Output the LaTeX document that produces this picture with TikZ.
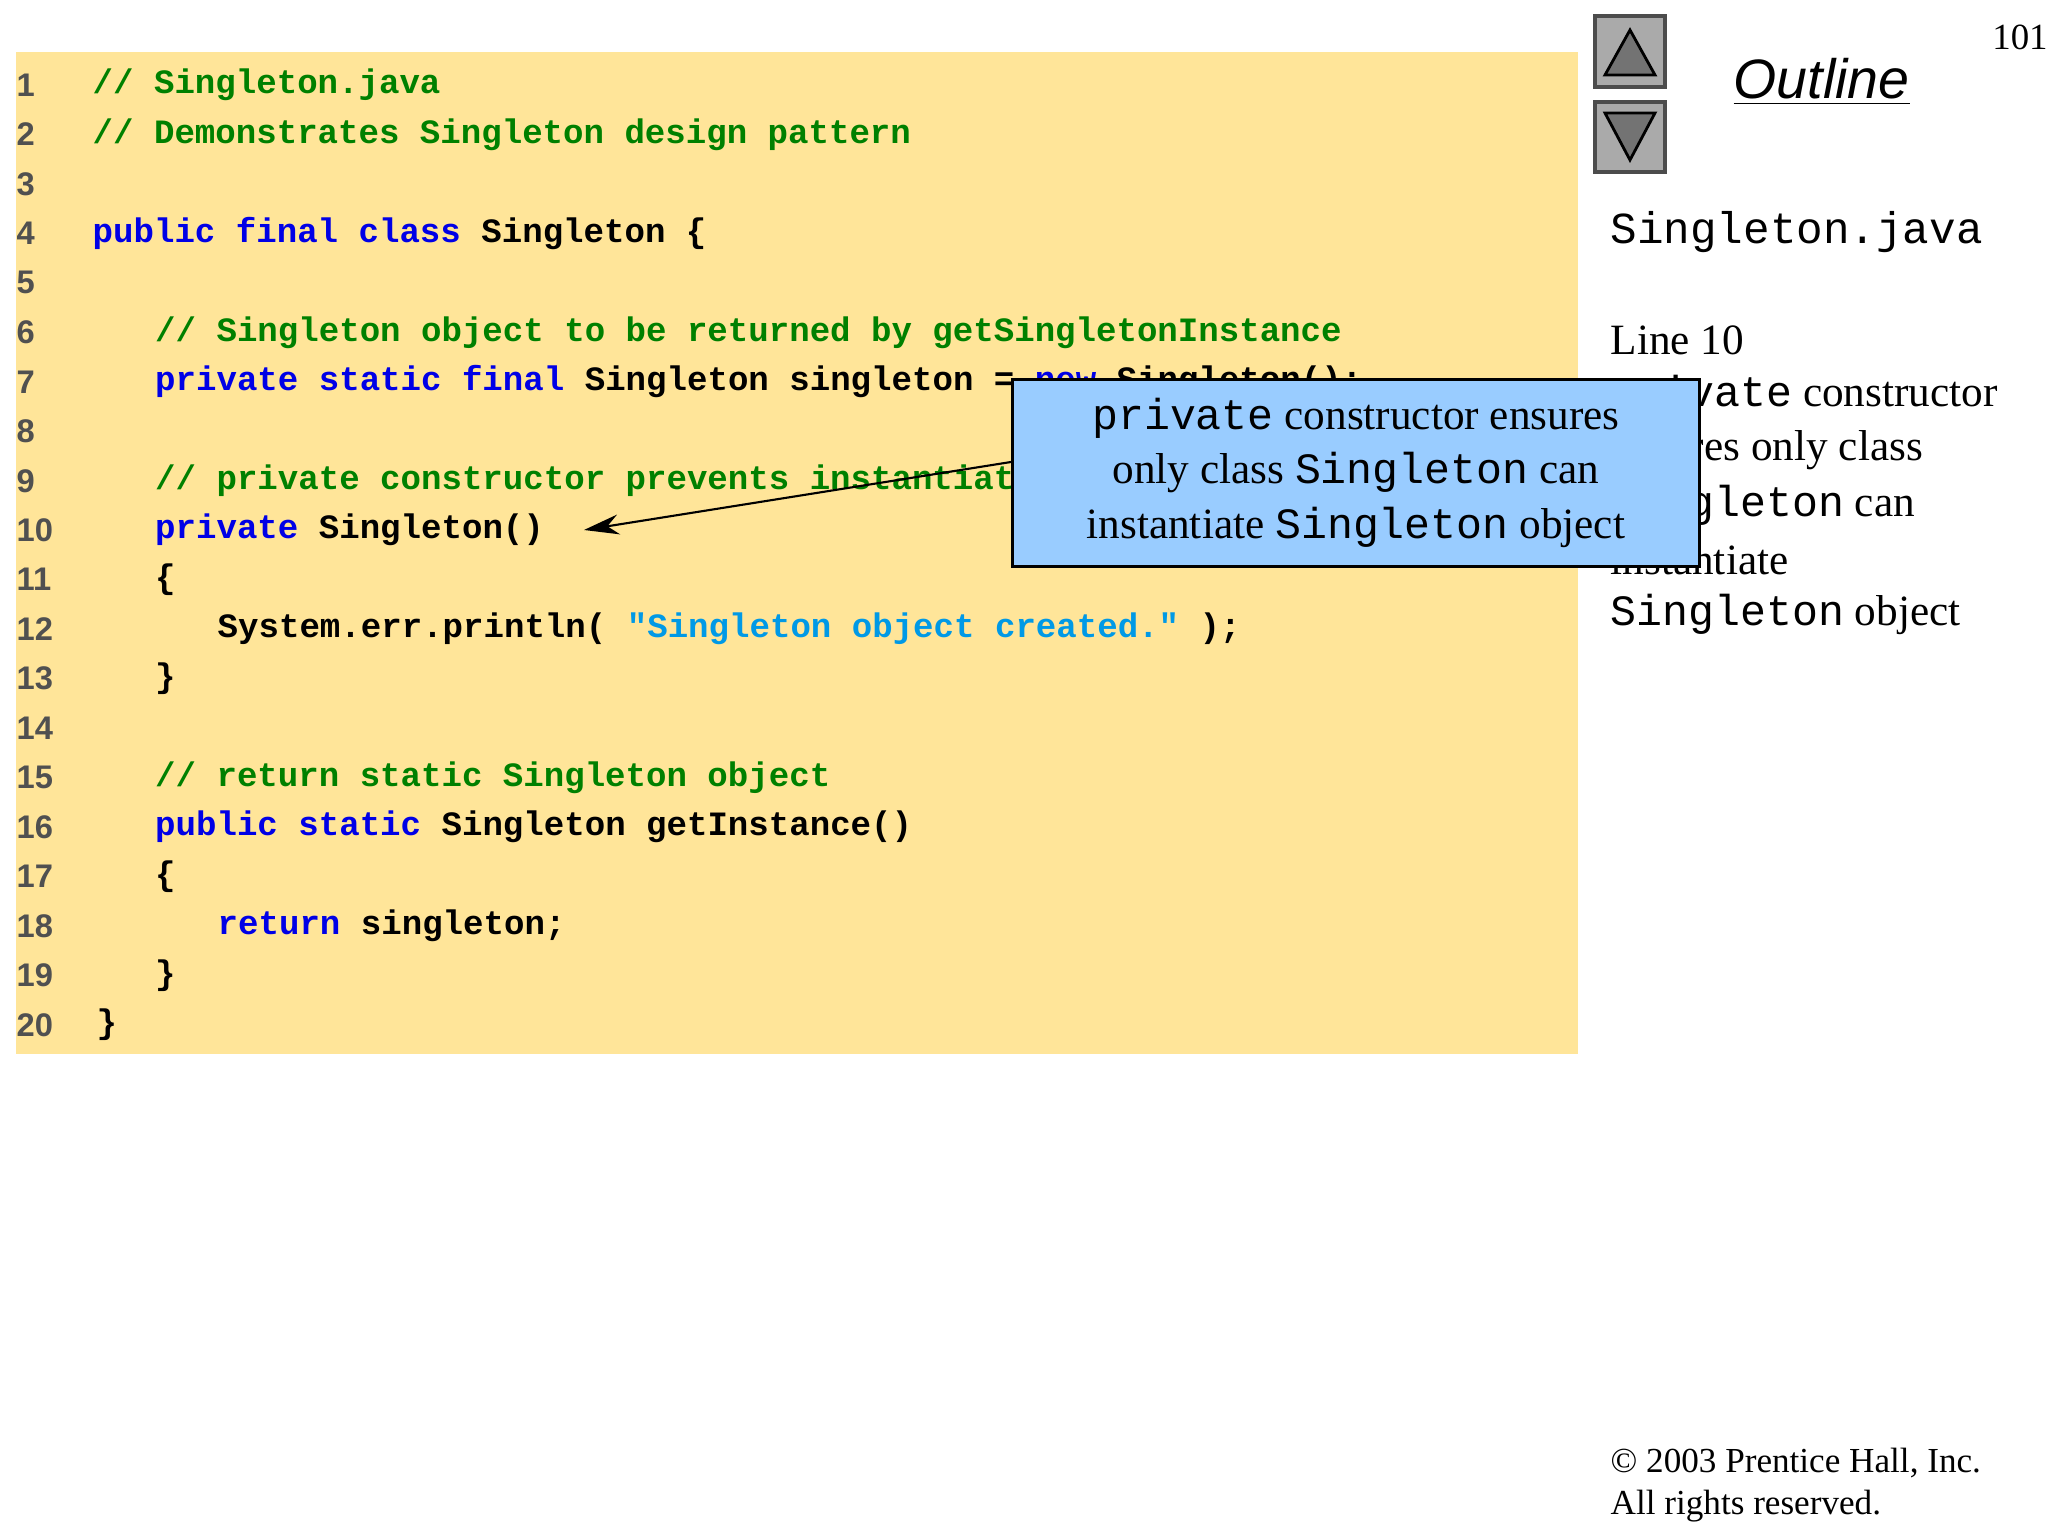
\documentclass[tikz,border=0pt]{standalone}
\usepackage{fontspec}
\setmainfont{Liberation Serif}
\setmonofont{Liberation Mono}
\newfontfamily\outl{Liberation Sans}
\usetikzlibrary{arrows.meta}
\definecolor{codebg}{RGB}{255,229,153}
\definecolor{cmt}{RGB}{0,128,0}
\definecolor{kw}{RGB}{0,0,230}
\definecolor{str}{RGB}{0,153,230}
\definecolor{lnum}{RGB}{80,80,80}
\definecolor{callbg}{RGB}{153,204,255}
\definecolor{btn}{RGB}{170,170,170}
\newcommand{\K}[1]{\textcolor{kw}{#1}}
\newcommand{\C}[1]{\textcolor{cmt}{#1}}
\newcommand{\Sx}[1]{\textcolor{str}{#1}}
\tikzset{
 codel/.style={anchor=west,inner sep=0,font=\fontsize{9.7}{11}\selectfont\ttfamily\bfseries},
 numl/.style={anchor=west,inner sep=0,text=lnum,font=\fontsize{9.3}{11}\selectfont\outl\bfseries},
 side/.style={anchor=west,inner sep=0,font=\fontsize{12.3}{14}\selectfont},
 sidett/.style={anchor=west,inner sep=0,font=\fontsize{12.6}{14}\selectfont\ttfamily},
 btnbox/.style={fill=btn,draw=black!70,line width=1.2pt},
 tri/.style={fill=black!55,draw=black,line width=0.8pt},
}
\begin{document}
\begin{tikzpicture}[x=1cm,y=-1cm]
\useasboundingbox (0,0) rectangle (20.48,15.36);
\fill[codebg] (0.16,0.52) rectangle (15.78,10.54);
\foreach \n in {1,...,20}{
  \node[numl] (n\n) at (0.16,{0.85+(\n-1)*0.4947}) {\n};
}
\def\Y#1{{0.85+(#1-1)*0.4947}}
\node[codel] (l1) at (0.92,\Y1) {\C{// Singleton.java}};
\node[codel] (l2) at (0.92,\Y2) {\C{// Demonstrates Singleton design pattern}};
\node[codel] (l4) at (0.92,\Y4) {\K{public final class} Singleton \{};
\node[codel] (l6) at (1.545,\Y6) {\C{// Singleton object to be returned by getSingletonInstance}};
\node[codel] (l7) at (1.545,\Y7) {\K{private static final} Singleton singleton = \K{new} Singleton();};
\node[codel] (l9) at (1.545,\Y9) {\C{// private constructor prevents instantiation by clients}};
\node[codel] (l10) at (1.545,\Y{10}) {\K{private} Singleton()};
\node[codel] (l11) at (1.545,\Y{11}) {\{};
\node[codel] (l12) at (2.17,\Y{12}) {System.err.println( \Sx{"Singleton object created."} );};
\node[codel] (l13) at (1.545,\Y{13}) {\}};
\node[codel] (l15) at (1.545,\Y{15}) {\C{// return static Singleton object}};
\node[codel] (l16) at (1.545,\Y{16}) {\K{public static} Singleton getInstance()};
\node[codel] (l17) at (1.545,\Y{17}) {\{};
\node[codel] (l18) at (2.17,\Y{18}) {\K{return} singleton;};
\node[codel] (l19) at (1.545,\Y{19}) {\}};
\node[codel] (l20) at (0.96,\Y{20}) {\}};
\draw[btnbox] (15.95,0.16) rectangle (16.65,0.87);
\draw[tri] (16.05,0.75) -- (16.3,0.3) -- (16.55,0.75) -- cycle;
\draw[btnbox] (15.95,1.02) rectangle (16.65,1.72);
\draw[tri] (16.05,1.13) -- (16.3,1.6) -- (16.55,1.13) -- cycle;
\node[anchor=west,inner sep=0,font=\fontsize{15.8}{18}\selectfont\outl\itshape] (outl) at (17.33,0.82) {\underline{Outline}};
\node[inner sep=0,font=\fontsize{10.5}{12}\selectfont] (pg) at (20.2,0.37) {101};
\node[sidett] (s1) at (16.1,2.32) {Singleton.java};
\node[side] (s2) at (16.1,3.40) {Line 10};
\node[side] (s3) at (16.1,3.95) {\texttt{private} constructor};
\node[side] (s4) at (16.1,4.50) {ensures only class};
\node[side] (s5) at (16.1,5.05) {\texttt{Singleton} can};
\node[side] (s6) at (16.1,5.60) {instantiate};
\node[side] (s7) at (16.1,6.14) {\texttt{Singleton} object};
\node[draw=black,fill=callbg,line width=0.8pt,minimum width=6.87cm,minimum height=1.87cm,anchor=north west,align=center,inner sep=0,
  font=\fontsize{12.3}{15.6}\selectfont] (call) at (10.11,3.78)
  {\texttt{private} constructor ensures\\only class \texttt{Singleton} can\\instantiate \texttt{Singleton} object};
\coordinate (tip) at (5.84,5.30);
\draw[-{Stealth[length=3.5mm,width=2mm]},line width=0.6pt] (call.west |- 0,4.62) -- (tip);
\node[anchor=west,inner sep=0,align=left,font=\fontsize{10}{12}\selectfont] (copy) at (16.1,14.85) {\textcopyright{} 2003 Prentice Hall, Inc.\\All rights reserved.};
\end{tikzpicture}
\end{document}
